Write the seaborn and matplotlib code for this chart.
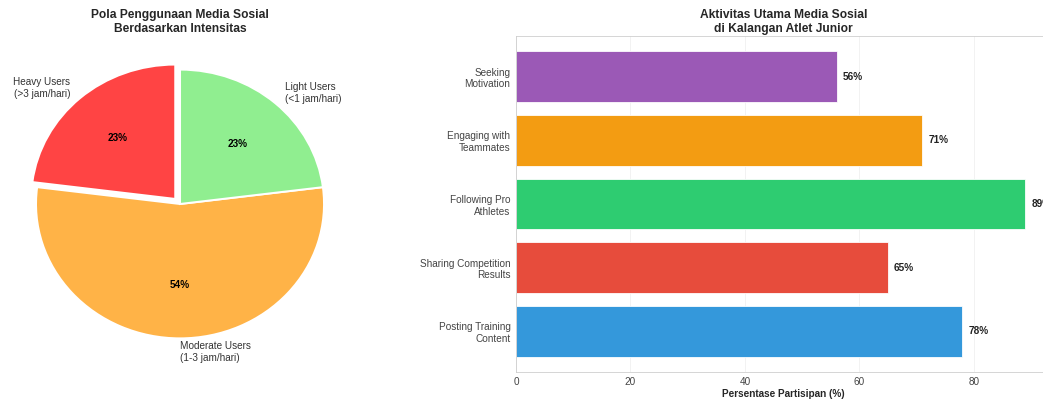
import matplotlib
matplotlib.use('Agg')
import matplotlib.pyplot as plt
import seaborn as sns

# data
usage_labels = ['Heavy Users\n(>3 jam/hari)', 'Moderate Users\n(1-3 jam/hari)', 'Light Users\n(<1 jam/hari)']
usage_shares = [23, 54, 23]
usage_colors = ['#ff4444', '#ffb347', '#90ee90']

activities = ['Posting Training\nContent', 'Sharing Competition\nResults', 'Following Pro\nAthletes',
              'Engaging with\nTeammates', 'Seeking\nMotivation']
participation = [78, 65, 89, 71, 56]
activity_colors = ['#3498db', '#e74c3c', '#2ecc71', '#f39c12', '#9b59b6']

sns.set_style('whitegrid')
plt.rcParams['font.family'] = ['Liberation Sans', 'DejaVu Sans']

fig = plt.figure(figsize=(1043 / 72, 399 / 72), dpi=72)
ax1 = fig.add_axes([0.0, 0.0677, 0.3452, 0.8421])
ax2 = fig.add_axes([0.4947, 0.0677, 0.5129, 0.8421])

# pie chart
wedges, texts, autotexts = ax1.pie(usage_shares, labels=usage_labels, colors=usage_colors,
                                   autopct='%1.0f%%', startangle=90, explode=(0.05, 0, 0),
                                   wedgeprops=dict(edgecolor='white', linewidth=2),
                                   textprops={'fontsize': 10})
for t in autotexts:
    t.set_fontweight('bold')
    t.set_color('black')
for t in texts:
    t.set_color('#333333')
texts[1].set_ha('left')
ax1.set_aspect('auto')
ax1.set_title('Pola Penggunaan Media Sosial\nBerdasarkan Intensitas', fontsize=12,
              fontweight='bold', pad=4)

# bar chart
order = activities[::-1]
sns.barplot(x=participation, y=activities, hue=activities, order=order,
            palette=dict(zip(activities, activity_colors)), legend=False,
            edgecolor='white', linewidth=0.8, saturation=1, ax=ax2)
ax2.set_ylim(len(order) - 1 + 0.64, -0.64)
ax2.grid(axis='x', alpha=0.3)
for v, name in zip(participation, activities):
    ax2.text(v + 1, order.index(name), f'{v}%', va='center', fontweight='bold', fontsize=10,
             color='#222222')
ax2.set_xlabel('Persentase Partisipan (%)', fontsize=10, fontweight='bold', labelpad=2)
ax2.set_ylabel('')
ax2.tick_params(axis='both', labelsize=10, colors='#444444', pad=2)
ax2.set_title('Aktivitas Utama Media Sosial\ndi Kalangan Atlet Junior', fontsize=12,
              fontweight='bold', pad=4)

fig.savefig('out.png', dpi=72)
